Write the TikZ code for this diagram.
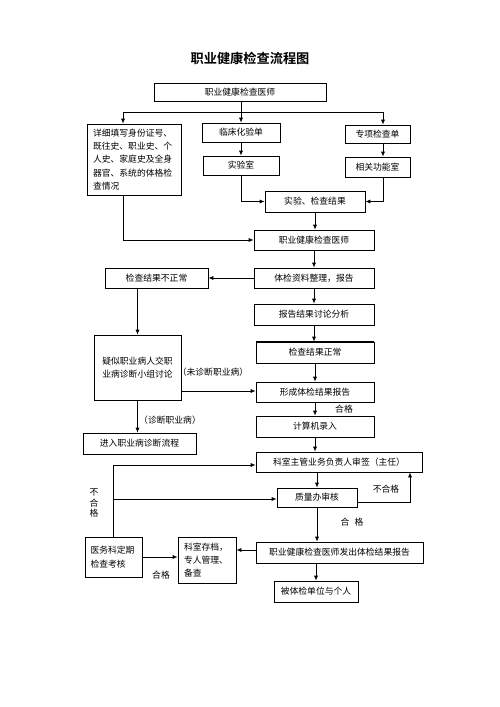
\documentclass[tikz,border=0pt]{standalone}
\usepackage{fontspec}
\newfontfamily\cjk[BoldFont=Noto Sans CJK SC Bold]{Noto Sans CJK SC}
\usetikzlibrary{arrows.meta}
\begin{document}
\begin{tikzpicture}[x=1pt,y=-1pt,
  box/.style={draw, line width=0.7pt, inner sep=0pt, font=\cjk\fontsize{8.8}{13.3}\selectfont},
  arr/.style={-{Latex[length=5pt,width=4pt]}, line width=0.7pt},
  ln/.style={line width=0.7pt},
  lbl/.style={inner sep=0pt, font=\cjk\fontsize{8.8}{13.3}\selectfont}]
\useasboundingbox[fill=white] (0,0) rectangle (500,707);

\node[inner sep=0pt, font=\cjk\bfseries\fontsize{13.2}{15}\selectfont] (title) at (250,58) {职业健康检查流程图};

\node[box, minimum width=172pt, minimum height=18pt] (top) at (240,92) {职业健康检查医师};
\node[box, minimum width=94pt, minimum height=71pt, text width=82pt, align=left] (hist) at (134,159.5)
  {详细填写身份证号、\\既往史、职业史、个\\人史、家庭史及全身\\器官、系统的体格检\\查情况};
\node[box, minimum width=78pt, minimum height=19pt] (clin) at (241,132.5) {临床化验单};
\node[box, minimum width=76pt, minimum height=19pt] (lab) at (241,165.5) {实验室};
\node[box, minimum width=65pt, minimum height=18pt] (spec) at (377.5,134) {专项检查单};
\node[box, minimum width=65pt, minimum height=20pt] (func) at (377.5,167) {相关功能室};
\node[box, minimum width=100pt, minimum height=21pt] (res) at (315,201.5) {实验、检查结果};
\node[box, minimum width=120pt, minimum height=20pt] (doc2) at (314,240) {职业健康检查医师};
\node[box, minimum width=120pt, minimum height=20pt] (sort) at (314,278) {体检资料整理，报告};
\node[box, minimum width=103pt, minimum height=20pt] (abn) at (156.5,278) {检查结果不正常};
\node[box, minimum width=120pt, minimum height=21pt] (disc) at (314,314.5) {报告结果讨论分析};
\node[box, minimum width=118pt, minimum height=21pt] (norm) at (315,352.5) {检查结果正常};
\draw[line width=1.6pt] (norm.north west) -- (norm.north east);
\node[box, minimum width=118pt, minimum height=20pt] (form) at (315,392) {形成体检结果报告};
\node[box, minimum width=118pt, minimum height=21pt] (comp) at (315,426.5) {计算机录入};
\node[box, minimum width=87pt, minimum height=65pt, align=center] (susp) at (137.5,367.5)
  {疑似职业病人交职\\业病诊断小组讨论};
\node[box, minimum width=113pt, minimum height=21pt] (enter) at (139.5,443.5) {进入职业病诊断流程};
\node[box, minimum width=166pt, minimum height=20pt] (sign) at (339,462) {科室主管业务负责人审签（主任）};
\node[box, minimum width=80pt, minimum height=19pt] (qual) at (317,497.5) {质量办审核};
\node[box, minimum width=57pt, minimum height=40pt, text width=46pt, align=left] (med) at (113.5,557)
  {医务科定期\\检查考核};
\node[box, minimum width=58pt, minimum height=46pt, text width=46pt, align=left] (arch) at (207,560)
  {科室存档，\\专人管理、\\备查};
\node[box, minimum width=167pt, minimum height=21pt] (issue) at (339.5,552.5) {职业健康检查医师发出体检结果报告};
\node[box, minimum width=84pt, minimum height=21pt] (recv) at (316,591.5) {被体检单位与个人};

% labels
\node[lbl] (l1) at (213,372) {（未诊断职业病）};
\node[lbl] (l2) at (344,409) {合格};
\node[lbl] (l3) at (170,420) {（诊断职业病）};
\node[lbl] (l4) at (386,489) {不合格};
\node[lbl] (l5) at (352,522) {合\hspace{5pt}格};
\node[lbl, align=center, font=\cjk\fontsize{8.8}{10.3}\selectfont] (l6) at (94,503) {不\\合\\格};
\node[lbl] (l7) at (161,575) {合格};

% connectors
\coordinate (b1) at (241,112);
\coordinate (bL) at (123,112);
\coordinate (bR) at (383,112);
\draw[ln] (top.south -| b1) -- (b1);
\draw[ln] (bL) -- (bR);
\draw[arr] (bL) -- (bL |- hist.north);
\draw[arr] (b1) -- (b1 |- clin.north);
\draw[arr] (bR) -- (bR |- spec.north);
\draw[arr] (clin.south) -- (lab.north);
\draw[arr] (lab.south) |- (res.west);
\draw[arr] (bR |- spec.south) -- (bR |- func.north);
\draw[arr] (bR |- func.south) |- (res.east);
\draw[arr] (bL |- hist.south) |- (doc2.west);
\draw[arr] (res.south) -- (res.south |- doc2.north);
\draw[arr] (doc2.south) -- (sort.north);
\draw[arr] (sort.west) -- (abn.east);
\draw[arr] (sort.south) -- (disc.north);
\draw[arr] (disc.south) -- (disc.south |- norm.north);
\draw[arr] (norm.south) -- (form.north);
\draw[arr] (form.south) -- (comp.north);
\draw[arr] (comp.south) -- (comp.south |- sign.north);
\draw[arr] (sign.south -| qual.south) -- (qual.north);
\draw[arr] (qual.south) -- (qual.south |- issue.north);
\draw[arr] (issue.south -| recv.north) -- (recv.north);
\draw[arr] (susp.north |- abn.south) -- (susp.north);
\coordinate (s1) at (181,391);
\draw[arr] (susp.east |- s1) -- (form.west |- s1);
\draw[arr] (susp.south) -- (susp.south |- enter.north);
\coordinate (m1) at (113,465);
\coordinate (m2) at (113,499);
\draw[arr] (med.north -| m1) -- (m1) -- (m1 -| sign.west);
\draw[arr] (m2) -- (m2 -| qual.west);
\coordinate (q1) at (410,502);
\draw[arr] (qual.east |- q1) -- (q1) -- (q1 |- sign.south);
\coordinate (i1) at (256,550);
\draw[arr] (i1) -- (arch.east |- i1);
\draw[arr] (med.east) -- (arch.west |- med.east);
\end{tikzpicture}
\end{document}
